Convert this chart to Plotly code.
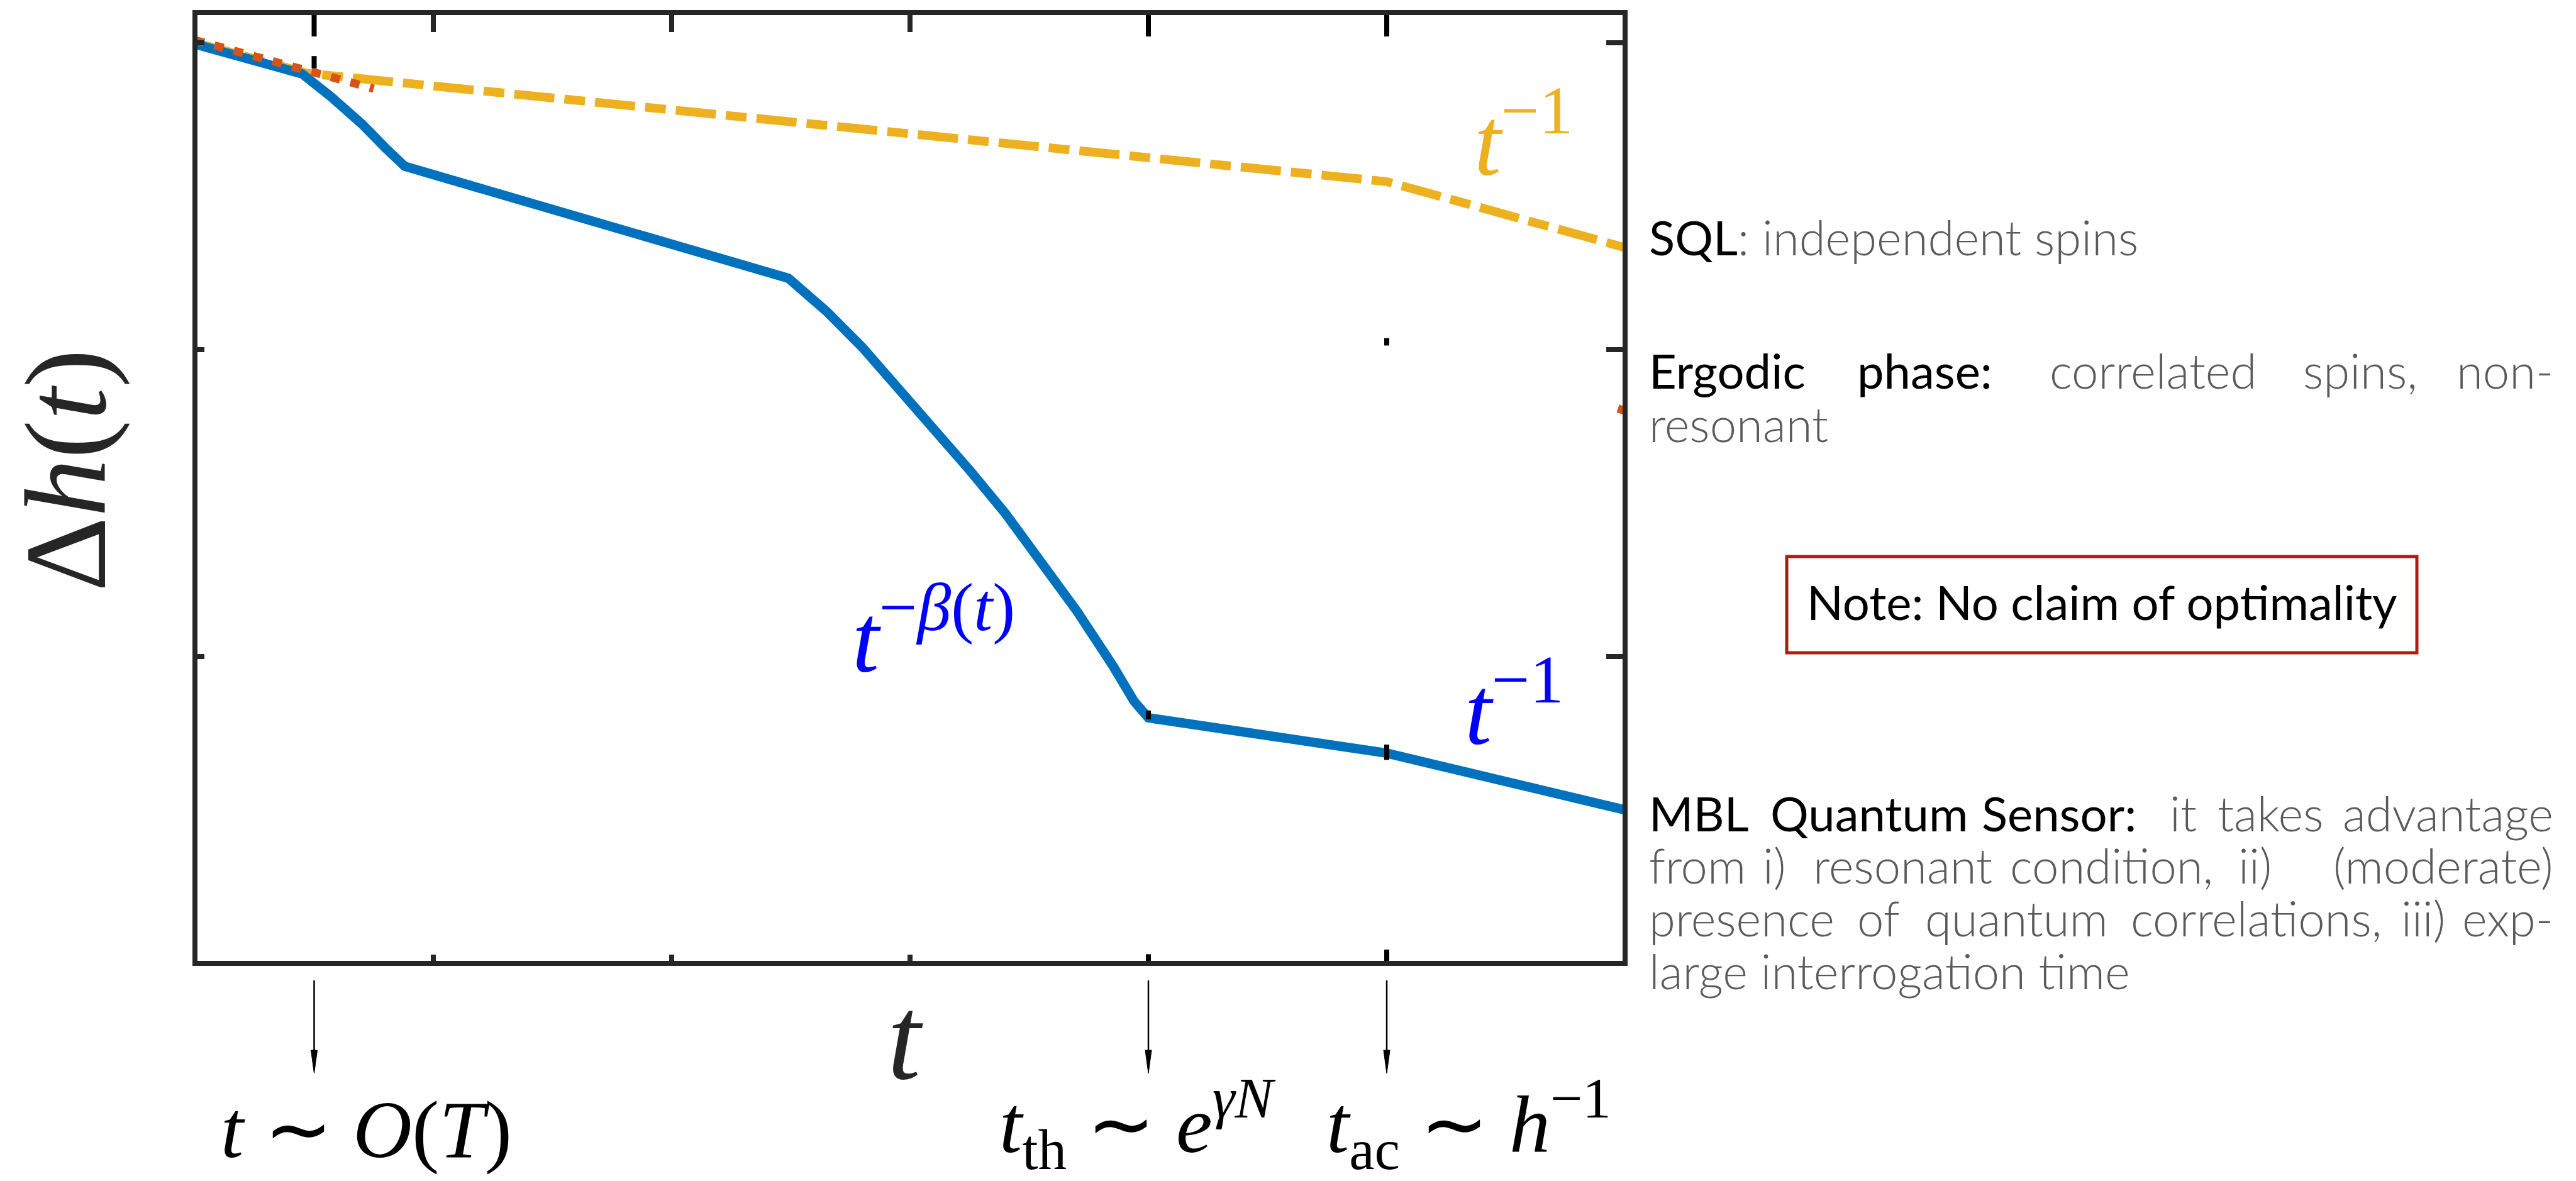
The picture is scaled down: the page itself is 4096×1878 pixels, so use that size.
import plotly.graph_objects as go

# ---------------- data (t in arbitrary units, window 0..6) ----------------
# MBL quantum sensor: precision vs interrogation time
blue_t = [0, 0.45, 0.57, 0.70, 0.80, 0.88, 2.49, 2.65, 2.80, 2.95, 3.10,
          3.25, 3.40, 3.55, 3.70, 3.85, 3.94, 4.0, 5.0, 6.0]
blue_dh = [2.995, 2.898, 2.824, 2.735, 2.656, 2.597, 2.232, 2.124, 2.007,
           1.877, 1.748, 1.607, 1.466, 1.312, 1.148, 0.971, 0.854, 0.800,
           0.685, 0.500]

# standard quantum limit (independent spins)
sql_t = [0, 0.47, 5.0, 6.0]
sql_dh = [3.0, 2.90, 2.547, 2.332]

# ergodic phase (visible pieces only)
ergodic_t = [0, 0.75, None, 5.97, 6.0]
ergodic_dh = [3.008, 2.850, None, 1.808, 1.80]

# short black guide marks at the characteristic times
guide_t = [0.5, 0.5, None, 0.5, 0.5, None, 4.0, 4.0, None, 4.0, 4.0, None,
           4.0, 4.0, None, 5.0, 5.0, None, 5.0, 5.0, None, 5.0, 5.0, None,
           5.0, 5.0]
guide_dh = [3.09, 3.02, None, 2.956, 2.916, None, 3.09, 3.02, None, 0.824,
            0.795, None, 0.0, 0.03, None, 3.09, 3.02, None, 2.037, 2.013,
            None, 0.713, 0.663, None, 0.0, 0.045]

# characteristic times marked with arrows below the axis
arrow_t = [0.5, 4.0, 5.0]

x_ticks = [1, 2, 3]
y_ticks = [1, 2, 3]

# ---------------- geometry ----------------
W, H = 4096, 1878
AX_LW = 8
AX_COLOR = "#262626"
X_LEFT, X_RIGHT = 310, 2584      # axis line centres (px)
Y_TOP, Y_BOTTOM = 20, 1532
T_MAX = 6.0
PX_PER_T = (X_RIGHT - X_LEFT) / T_MAX
PX_PER_DH = 488.1
half = AX_LW / 2
plot_l, plot_r = X_LEFT + half, X_RIGHT - half
plot_t, plot_b = Y_TOP + half, Y_BOTTOM - half
x_range = [(plot_l - X_LEFT) / PX_PER_T, (plot_r - X_LEFT) / PX_PER_T]
y_range = [(Y_BOTTOM - plot_b) / PX_PER_DH, (Y_BOTTOM - plot_t) / PX_PER_DH]


def paper_x(px):
    return (px - plot_l) / (plot_r - plot_l)


def paper_y(py):
    return (plot_b - py) / (plot_b - plot_t)


def data_y(py):
    return (Y_BOTTOM - py) / PX_PER_DH


MATH = "Liberation Serif"
TEXT = "Lato"
BLUE_TXT = "#0000FF"
YELLOW = "#EDB120"

fig = go.Figure()

fig.add_trace(go.Scatter(
    x=sql_t, y=sql_dh, mode="lines", hoverinfo="skip", showlegend=False,
    line=dict(color=YELLOW, width=14, dash="64px,16px,33px,16px")))
fig.add_trace(go.Scatter(
    x=blue_t, y=blue_dh, mode="lines", hoverinfo="skip", showlegend=False,
    line=dict(color="#0072BD", width=15)))
fig.add_trace(go.Scatter(
    x=ergodic_t, y=ergodic_dh, mode="lines", hoverinfo="skip",
    showlegend=False,
    line=dict(color="#D95319", width=13, dash="15px,17px")))
fig.add_trace(go.Scatter(
    x=guide_t, y=guide_dh, mode="lines", hoverinfo="skip", showlegend=False,
    line=dict(color="#000000", width=8)))
# carrier for the top/right tick axes
fig.add_trace(go.Scatter(x=[None], y=[None], xaxis="x2", yaxis="y2",
                         showlegend=False, hoverinfo="skip"))

axis_common = dict(showgrid=False, zeroline=False, showline=True,
                   linewidth=AX_LW, linecolor=AX_COLOR, ticks="inside",
                   tickwidth=8, tickcolor=AX_COLOR, showticklabels=False,
                   fixedrange=True)

annotations = []

# axis labels
annotations.append(dict(
    text="Δ<i>h</i>(<i>t</i>)", xref="paper", yref="paper",
    x=paper_x(104), y=paper_y(748), textangle=-90, showarrow=False,
    xanchor="center", yanchor="middle",
    font=dict(family=MATH, size=185, color=AX_COLOR)))
annotations.append(dict(
    text="<i>t</i>", xref="paper", yref="paper",
    x=paper_x(1439), y=paper_y(1651), showarrow=False,
    xanchor="center", yanchor="middle",
    font=dict(family=MATH, size=190, color=AX_COLOR)))

# characteristic time labels
time_labels = [
    ("<i>t</i> ∼ <i>O</i>(<i>T</i>)", 582, 1796),
    ("<i>t</i><sub>th</sub> ∼ <i>e</i><sup><i>γN</i></sup>", 1808, 1787),
    ("<i>t</i><sub>ac</sub> ∼ <i>h</i><sup>−1</sup>", 2335, 1787),
]
for txt, cx, cy in time_labels:
    annotations.append(dict(
        text=txt, xref="paper", yref="paper", x=paper_x(cx), y=paper_y(cy),
        showarrow=False, xanchor="center", yanchor="middle",
        font=dict(family=MATH, size=130, color="#000000")))

# scaling labels on the curves
annotations.append(dict(
    text="<i>t</i><sup>−1</sup>", xref="x", yref="y", x=5.362,
    y=data_y(213), showarrow=False, xanchor="left", yanchor="middle",
    font=dict(family=MATH, size=154, color=YELLOW)))
annotations.append(dict(
    text="<i>t</i><sup>−<i>β</i>(<i>t</i>)</sup>", xref="x", yref="y",
    x=2.753, y=data_y(1003), showarrow=False, xanchor="left",
    yanchor="middle", font=dict(family=MATH, size=154, color=BLUE_TXT)))
annotations.append(dict(
    text="<i>t</i><sup>−1</sup>", xref="x", yref="y", x=5.321,
    y=data_y(1118), showarrow=False, xanchor="left", yanchor="middle",
    font=dict(family=MATH, size=154, color=BLUE_TXT)))

# side notes
LIGHT_COLOR = "#5a5a5a"
HEAD = dict(family=TEXT, size=76, color="#000000", weight=400)
LIGHT = dict(family=TEXT, size=76, color=LIGHT_COLOR, weight=300)
TXT_L, TXT_R = 2620, 4062


def word(text, px, py, anchor, font):
    annotations.append(dict(
        text=text, xref="paper", yref="paper", x=paper_x(px), y=paper_y(py),
        showarrow=False, xanchor=anchor, yanchor="middle", font=font))


word("SQL<span style=\"font-weight:300;color:" + LIGHT_COLOR
     + "\">: independent spins</span>", TXT_L, 376, "left", HEAD)

ergodic_line = [("Ergodic", TXT_L, "left", HEAD), ("phase:", 3060, "center", HEAD),
                ("correlated", 3423, "center", LIGHT),
                ("spins,", 3753, "center", LIGHT), ("non-", TXT_R, "right", LIGHT)]
for w, px, anc, f in ergodic_line:
    word(w, px, 588, anc, f)
word("resonant", TXT_L, 673, "left", LIGHT)

mbl_lines = [
    (1292, [("MBL", TXT_L, "left", HEAD), ("Quantum", 2972, "center", HEAD),
            ("Sensor:", 3274, "center", HEAD), ("it", 3471, "center", LIGHT),
            ("takes", 3610, "center", LIGHT),
            ("advantage", TXT_R, "right", LIGHT)]),
    (1375, [("from", TXT_L, "left", LIGHT), ("i)", 2821, "center", LIGHT),
            ("resonant", 3025, "center", LIGHT),
            ("condition,", 3357, "center", LIGHT),
            ("ii)", 3585, "center", LIGHT),
            ("(moderate)", TXT_R, "right", LIGHT)]),
    (1459, [("presence", TXT_L, "left", LIGHT), ("of", 2987, "center", LIGHT),
            ("quantum", 3206, "center", LIGHT),
            ("correlations,", 3587, "center", LIGHT),
            ("iii)", 3853, "center", LIGHT), ("exp-", TXT_R, "right", LIGHT)]),
]
for py, words in mbl_lines:
    for w, px, anc, f in words:
        word(w, px, py, anc, f)
word("large interrogation time", TXT_L, 1543, "left", LIGHT)

# note box
word("Note: No claim of optimality", 3342, 956, "center", HEAD)

shapes = [dict(type="rect", xref="paper", yref="paper",
               x0=paper_x(2841), x1=paper_x(3843),
               y0=paper_y(1038), y1=paper_y(885),
               line=dict(color="#B11A0E", width=5), fillcolor="rgba(0,0,0,0)")]

# arrows below the time axis
ARROW_TOP, ARROW_TIP, HEAD_LEN, HEAD_HALF = 1559, 1707, 37, 5
for t in arrow_t:
    shapes.append(dict(type="line", xref="x", yref="paper", x0=t, x1=t,
                       y0=paper_y(ARROW_TOP), y1=paper_y(ARROW_TIP - HEAD_LEN + 2),
                       line=dict(color="#000000", width=2.5)))
    hw = HEAD_HALF / PX_PER_T
    yb, yt = paper_y(ARROW_TIP - HEAD_LEN), paper_y(ARROW_TIP)
    shapes.append(dict(type="path", xref="x", yref="paper",
                       path=f"M {t - hw},{yb} L {t},{yt} L {t + hw},{yb} Z",
                       fillcolor="#000000", line=dict(color="#000000", width=1)))

fig.update_layout(
    width=W, height=H,
    margin=dict(l=plot_l, r=W - plot_r, t=plot_t, b=H - plot_b, pad=0),
    paper_bgcolor="#FFFFFF", plot_bgcolor="#FFFFFF",
    xaxis=dict(range=x_range, tickvals=x_ticks, ticklen=10, **axis_common),
    xaxis2=dict(range=x_range, tickvals=x_ticks, ticklen=27, overlaying="x",
                side="top", anchor="y", **axis_common),
    yaxis=dict(range=y_range, tickvals=y_ticks, ticklen=11, **axis_common),
    yaxis2=dict(range=y_range, tickvals=y_ticks, ticklen=26, overlaying="y",
                side="right", anchor="x", **axis_common),
    annotations=annotations, shapes=shapes, showlegend=False,
)

fig.write_html("out.html")
